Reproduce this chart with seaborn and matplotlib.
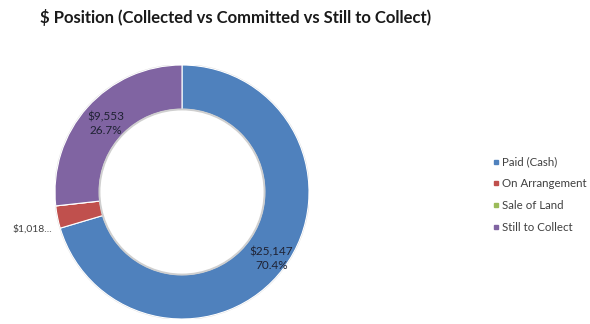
import matplotlib
matplotlib.use("Agg")
import matplotlib.pyplot as plt
from matplotlib.lines import Line2D
import seaborn as sns
import numpy as np

categories = ["Paid (Cash)", "On Arrangement", "Sale of Land", "Still to Collect"]
amounts = [25147, 1018, 0, 9553]
slice_labels = ["$25,147\n70.4%", "$1,018...", "", "$9,553\n26.7%"]
colors = ["#4F81BD", "#C0504D", "#9BBB59", "#8064A2"]
# radial position of each data label (fraction of the outer radius)
label_radius = [0.88, 1.04, 0.0, 0.81]

sns.set_theme(style="white")
plt.rcParams["font.family"] = ["Lato", "DejaVu Sans"]

W, H = 590, 324
fig = plt.figure(figsize=(W / 100, H / 100), dpi=100)

cx, cy, R = 182, 192, 127
ax = fig.add_axes([(cx - R) / W, (H - cy - R) / H, 2 * R / W, 2 * R / H])

ring = 0.35
wedges, _ = ax.pie(
    amounts, colors=colors, startangle=90, counterclock=False,
    radius=1.0, wedgeprops=dict(width=ring, edgecolor="white", linewidth=0.8),
)
# soft grey rim around the ring
ax.add_patch(plt.Circle((0, 0), 1.0, fill=False, ec="#d9d9d9", lw=1.2, zorder=0))
ax.add_patch(plt.Circle((0, 0), 1 - ring, fill=False, ec="#cfcfcf", lw=1.4, zorder=3))
ax.set_xlim(-1, 1)
ax.set_ylim(-1, 1)
ax.set_aspect("equal")
ax.axis("off")

total = sum(amounts)
start = 90.0
for val, lab, rr in zip(amounts, slice_labels, label_radius):
    span = 360.0 * val / total
    mid = np.deg2rad(start - span / 2)
    start -= span
    if not lab:
        continue
    x, y = rr * np.cos(mid), rr * np.sin(mid)
    if val / total < 0.05:
        ax.annotate(lab, (x, y), xytext=(0, -8), textcoords="offset points",
                    ha="right", va="center", fontsize=7.5, color="#404040",
                    annotation_clip=False)
    else:
        ax.text(x, y, lab, ha="center", va="center", fontsize=8.5,
                color="#1f2233", linespacing=1.25)

fig.text(40 / W, 1 - 18 / H, "$ Position (Collected vs Committed vs Still to Collect)",
         ha="left", va="center", fontsize=12, fontweight="bold", color="#1a1a1a")

handles = [Line2D([], [], marker="s", linestyle="none", markersize=3.5,
                  markerfacecolor=c, markeredgecolor=c) for c in colors]
fig.legend(handles, categories, loc="upper left", bbox_to_anchor=(487 / W, 1 - 151 / H),
           frameon=False, fontsize=8.3, labelcolor="#404040", handlelength=0.6,
           handletextpad=0.2, labelspacing=0.92, borderpad=0)

fig.savefig("out.png", dpi=100, facecolor="white")
